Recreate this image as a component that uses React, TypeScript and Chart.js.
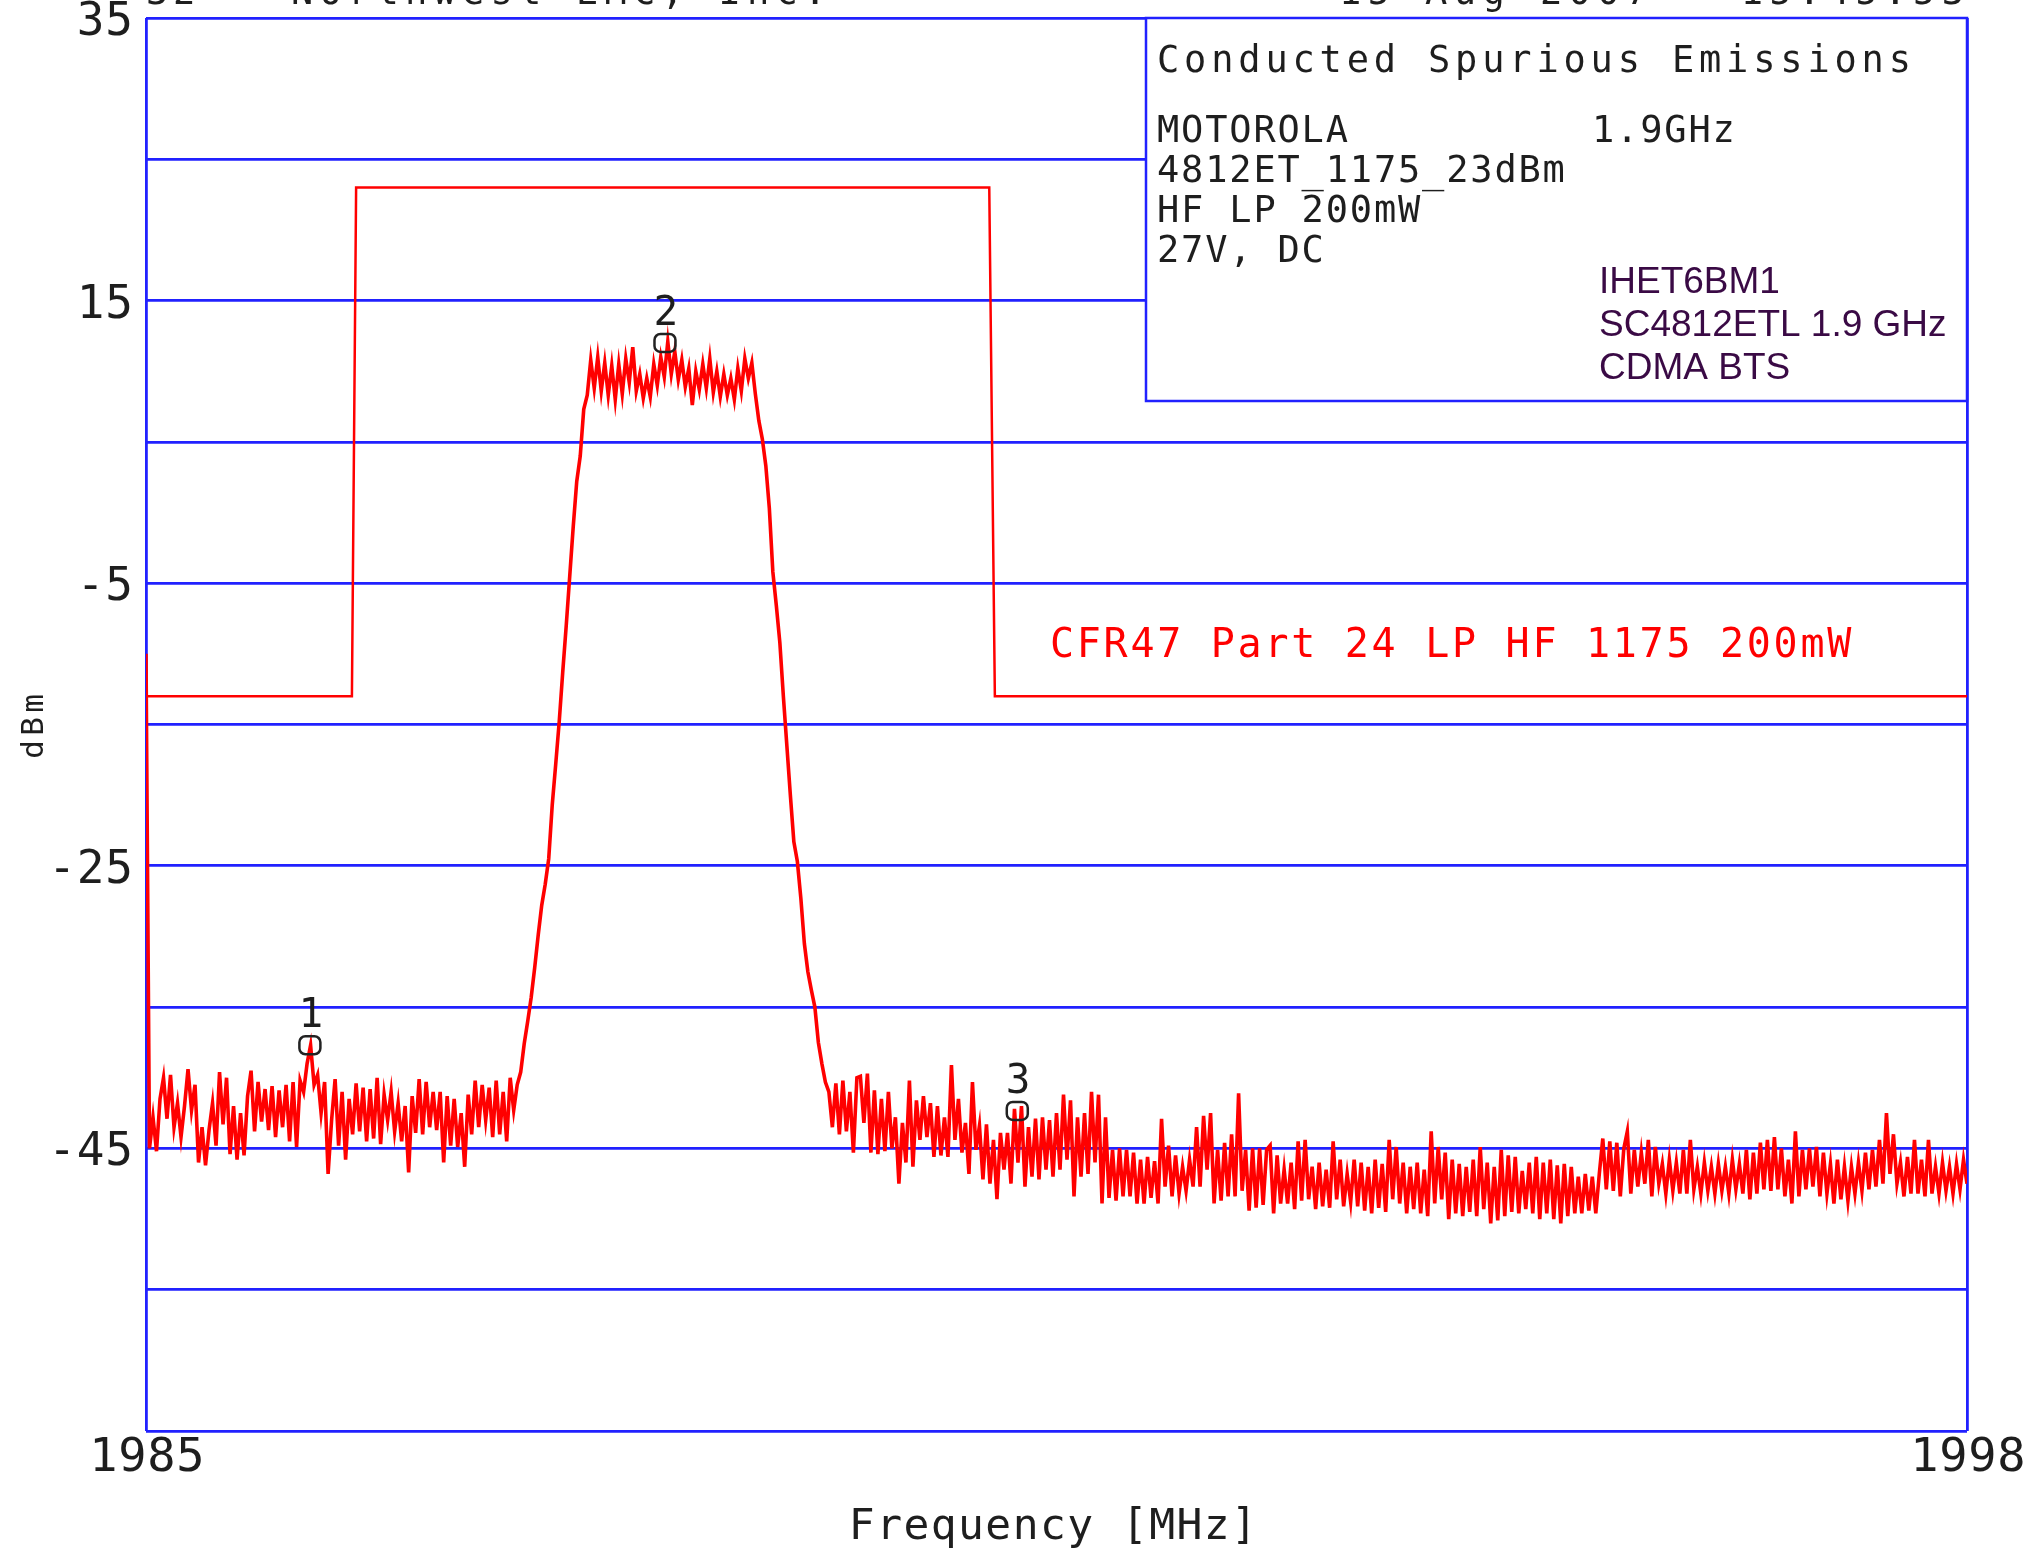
import React, { useEffect, useRef } from 'react';
import { Chart, registerables } from 'chart.js';

Chart.register(...registerables);

// Sweep
const SWEEP_START = 1985;
const SWEEP_STOP = 1998;

// Measured trace (dBm), evenly spaced sweep points from SWEEP_START to SWEEP_STOP
const traceDbm = [
  -10,
  -45.0, -42.8, -45.2, -41.5, -40.0, -42.9, -39.8, -43.5, -41.8, -44.2,
  -42.0, -39.4, -42.3, -40.5, -46.0, -43.5, -46.2, -43.7, -41.8, -44.8,
  -39.6, -43.3, -40.0, -45.4, -42.0, -45.8, -42.5, -45.5, -41.3, -39.5,
  -43.8, -40.3, -43.1, -40.8, -43.7, -40.6, -44.2, -40.9, -43.5, -40.5,
  -44.5, -40.3, -44.9, -40.2, -41.0, -39.0, -37.7, -40.5, -39.8, -42.5,
  -40.3, -46.8, -43.0, -40.1, -44.8, -41.0, -45.8, -41.5, -44.0, -40.4,
  -43.8, -40.7, -44.5, -40.8, -44.3, -40.0, -44.7, -41.2, -43.0, -41.0,
  -43.8, -41.8, -44.5, -42.0, -46.7, -41.3, -43.9, -40.1, -44.0, -40.3,
  -43.5, -41.0, -43.7, -41.0, -46.0, -41.3, -44.8, -41.5, -44.9, -42.5,
  -46.3, -41.2, -44.0, -40.2, -43.5, -40.5, -43.0, -40.7, -44.2, -40.2,
  -44.0, -41.0, -44.5, -40.0, -42.3,
  -40.5, -39.6, -37.6, -36.0, -34.3,
  -32.2, -29.9, -27.8, -26.3, -24.5, -20.7, -17.8, -14.8, -11.3, -8.0,
  -4.5, -1.0, 2.2, 4.0, 7.3, 8.3, 10.8,
  8.8, 11.0, 8.6, 10.6, 8.3, 10.4, 8.0, 10.5, 8.4, 10.9,
  9.2, 11.7, 8.6, 9.8, 8.1, 9.5, 8.2, 10.5, 9.0, 11.0,
  9.6, 12.1, 9.8, 11.4, 9.4, 10.8, 8.9, 10.2, 7.6, 10.0,
  8.7, 10.5, 8.8, 10.9, 8.5, 10.0, 8.2, 9.8, 8.3, 9.5,
  8.0, 10.2, 8.6, 10.9, 9.5, 10.6, 8.4,
  6.5, 5.2, 3.3, 0.3, -4.2, -6.6, -9.2, -13.0, -16.5, -20.0,
  -23.3, -24.7, -27.3, -30.5, -32.5, -33.8, -35.0, -37.5, -39.0, -40.3, -41.0,
  -43.5, -40.4, -44.0, -40.2, -43.8, -41.0, -45.3, -40.0,
  -39.9, -43.2, -39.7, -45.3, -40.9, -45.4, -41.5, -45.2, -41.0, -45.0,
  -42.8, -47.5, -43.2, -46.0, -40.2, -46.3, -41.6, -44.4, -41.3, -44.2,
  -41.8, -45.6, -42.0, -45.5, -42.8, -45.6, -39.1, -44.4, -41.5, -45.3,
  -43.2, -46.8, -40.3, -45.1, -43.4, -47.2, -43.3, -47.5, -44.4, -48.6,
  -43.9, -46.5, -43.9, -47.5, -42.2, -46.0, -42.0, -47.7, -43.5, -47.0,
  -42.9, -47.2, -42.8, -46.5, -43.0, -47.0, -42.5, -46.5, -41.2, -45.8,
  -41.6, -48.4, -42.8, -47.0, -42.5, -46.8, -41.0, -46.0, -41.2, -48.9,
  -42.8, -48.5, -45.1, -48.7, -45.0, -48.4, -45.1, -48.4, -45.3, -48.9,
  -45.8, -48.9, -45.6, -48.5, -45.9, -48.9, -42.9, -47.7, -44.8, -48.4,
  -45.5, -48.2, -46.3, -48.0, -45.8, -47.7, -43.5, -47.7, -42.7, -46.5,
  -42.5, -48.9, -45.1, -48.7, -44.6, -48.4, -44.0, -48.4, -41.1, -48.0,
  -45.1, -49.4, -45.0, -49.2, -45.0, -49.0, -45.1,
  -44.8, -49.6, -45.5, -48.9, -46.5, -48.9, -46.0, -49.3, -44.5, -48.7,
  -44.4, -48.6, -46.3, -49.3, -46.0, -49.1, -46.5, -49.2, -44.5, -48.6,
  -45.8, -49.1, -46.8, -48.8, -45.8, -49.1, -46.0, -49.4, -46.3, -49.6,
  -45.8, -49.2, -46.1, -49.5, -44.4, -48.6, -44.9, -48.9, -46.0, -49.6,
  -46.3, -49.3, -46.0, -49.6, -46.5, -49.8, -43.8, -48.9, -44.9, -48.6,
  -45.3, -50.0, -45.8, -49.6, -46.1, -49.8, -46.3, -49.5, -45.8, -49.8,
  -44.9, -49.3, -46.0, -50.3, -46.3, -50.1, -45.1, -49.8, -45.5, -49.5,
  -45.6, -49.6, -46.6, -49.3, -46.0, -49.6, -45.6, -50.0, -46.0, -49.6,
  -45.8, -50.0, -46.2, -50.3, -46.1, -49.8, -46.3, -49.6, -47.0, -49.6,
  -46.8, -49.4, -47.0, -49.6, -46.8, -44.3, -47.9, -44.5, -48.0, -44.6,
  -48.4, -45.0, -43.8, -48.2, -45.1, -47.7, -45.3, -47.5, -44.4, -48.4,
  -44.9, -47.5, -46.1, -48.2, -45.8, -48.0, -46.0, -48.2, -45.1, -48.2,
  -44.4, -47.9, -46.3, -48.2, -46.0, -48.0, -46.3, -48.2, -46.1, -48.0,
  -46.3, -48.2, -45.8, -47.9, -46.1, -48.2, -45.1, -48.6, -45.3, -48.2,
  -44.6, -47.9, -44.4, -48.0, -44.2, -47.9, -45.0, -48.4, -45.8, -48.9,
  -43.8, -48.4, -45.1, -47.9, -45.0, -47.7, -44.9, -48.4, -45.3, -48.2,
  -46.1, -48.9, -45.8, -48.6, -46.3, -48.7, -46.3, -48.2, -46.0, -48.0,
  -45.3, -47.9, -45.1, -47.7, -44.4, -47.5, -42.5, -46.8, -44.0, -47.5,
  -46.0, -48.4, -45.6, -48.2, -44.4, -48.2, -45.8, -48.4, -44.4, -48.2,
  -46.3, -48.2, -46.0, -48.0, -46.3, -48.2, -46.1, -47.9, -45.8, -47.5,
];

// Limit mask (CFR47 Part 24)
const limitFreq = [1985, 1986.47, 1986.5, 1991.02, 1991.06, 1998];
const limitDbm = [-13, -13, 23, 23, -13, -13];

// Markers
const markerLabels = ['1', '2', '3'];
const markerFreq = [1986.17, 1988.705, 1991.22];
const markerDbm = [-37.7, 12.0, -42.35];

// Axis ticks
const yTickValues = [35, 15, -5, -25, -45];
const yTickLabels = ['35', '15', '-5', '-25', '-45'];
const xTickValues = [1985, 1998];
const xTickLabels = ['1985', '1998'];

// Texts
const boxTitle = 'Conducted Spurious Emissions';
const boxLines = ['MOTOROLA', '4812ET_1175_23dBm', 'HF LP 200mW', '27V, DC'];
const boxRightNote = '1.9GHz';
const noteLines = ['IHET6BM1', 'SC4812ETL 1.9 GHz', 'CDMA BTS'];
const limitLabel = 'CFR47 Part 24 LP HF 1175 200mW';
const headerLeftA = '32';
const headerLeftB = 'Northwest EMC, Inc.';
const headerRight = '15 Aug 2007   15:45:53';

const BLUE = '#2121ff';
const RED = '#ff0000';
const INK = '#1e1e1e';
const MONO = '"DejaVu Sans Mono", "Liberation Mono", monospace';

function drawMono(
  ctx: CanvasRenderingContext2D,
  text: string,
  x: number,
  y: number,
  size: number,
  pitch: number,
  color: string,
  align: 'left' | 'center' | 'right' = 'left'
) {
  const n = text.length;
  const total = (n - 1) * pitch + 0.56 * size;
  let start = x;
  if (align === 'center') start = x - total / 2;
  if (align === 'right') start = x - total;
  ctx.save();
  ctx.font = `${size}px ${MONO}`;
  ctx.fillStyle = color;
  ctx.textAlign = 'left';
  ctx.textBaseline = 'alphabetic';
  for (let i = 0; i < n; i++) {
    const ch = text[i];
    if (ch !== ' ') ctx.fillText(ch, start + i * pitch, y);
  }
  ctx.restore();
}

const overlayPlugin = {
  id: 'overlay',
  afterDatasetsDraw(chart: any) {
    const ctx: CanvasRenderingContext2D = chart.ctx;
    const area = chart.chartArea;
    const xs = chart.scales.x;
    const ys = chart.scales.y;

    // Info box
    const boxL = 1146;
    const boxB = 401;
    ctx.save();
    ctx.fillStyle = '#ffffff';
    ctx.fillRect(boxL, area.top, area.right - boxL, boxB - area.top);
    ctx.strokeStyle = BLUE;
    ctx.lineWidth = 2.5;
    ctx.strokeRect(boxL, area.top, area.right - boxL, boxB - area.top);
    ctx.restore();

    drawMono(ctx, boxTitle, 1157, 72, 37, 27.1, INK);
    boxLines.forEach((t, i) => drawMono(ctx, t, 1157, 142 + i * 40, 37, 24.1, INK));
    drawMono(ctx, boxRightNote, 1592, 142, 37, 24.1, INK);

    ctx.save();
    ctx.font = '37px "Liberation Sans", Arial, sans-serif';
    ctx.fillStyle = '#3a0a45';
    ctx.textAlign = 'left';
    ctx.textBaseline = 'alphabetic';
    noteLines.forEach((t, i) => ctx.fillText(t, 1599, 293 + i * 43));
    ctx.restore();

    // Limit label
    drawMono(ctx, limitLabel, 1050, 657, 40, 26.8, RED);

    // Markers
    markerLabels.forEach((lab, i) => {
      const px = xs.getPixelForValue(markerFreq[i]);
      const py = ys.getPixelForValue(markerDbm[i]);
      const w = 21;
      const h = 18;
      ctx.save();
      ctx.strokeStyle = '#222222';
      ctx.lineWidth = 2.5;
      ctx.beginPath();
      (ctx as any).roundRect(px - w / 2, py - h / 2, w, h, 6);
      ctx.stroke();
      ctx.restore();
      drawMono(ctx, lab, px, py - h / 2 - 9, 41, 24, INK, 'center');
    });
  },
  afterDraw(chart: any) {
    const ctx: CanvasRenderingContext2D = chart.ctx;
    const xs = chart.scales.x;
    const ys = chart.scales.y;

    // Y tick labels
    yTickValues.forEach((v, i) => {
      const py = ys.getPixelForValue(v);
      drawMono(ctx, yTickLabels[i], 131, py + 17, 46, 28.5, INK, 'right');
    });
    // X tick labels
    xTickValues.forEach((v, i) => {
      const px = xs.getPixelForValue(v);
      drawMono(ctx, xTickLabels[i], px, 1471, 47, 29, INK, 'center');
    });
    // Axis titles
    drawMono(ctx, 'Frequency [MHz]', 1052, 1539, 43, 27.3, INK, 'center');
    ctx.save();
    ctx.translate(43, 727);
    ctx.rotate(-Math.PI / 2);
    drawMono(ctx, 'dBm', 0, 0, 31, 23, INK, 'center');
    ctx.restore();

    // Header (clipped at the top edge)
    drawMono(ctx, headerLeftA, 146, 4, 37, 27, INK);
    drawMono(ctx, headerLeftB, 291, 4, 37, 28.5, INK);
    drawMono(ctx, headerRight, 1339, 4, 37, 28.7, INK);
  },
};

export default function App() {
  const ref = useRef<HTMLCanvasElement | null>(null);

  useEffect(() => {
    document.body.style.margin = '0';
    document.body.style.overflow = 'hidden';
    const canvas = ref.current;
    if (!canvas) return;
    const step = (SWEEP_STOP - SWEEP_START) / (traceDbm.length - 1);
    const traceData = traceDbm.map((v, i) => ({ x: SWEEP_START + i * step, y: v }));
    const limitData = limitFreq.map((f, i) => ({ x: f, y: limitDbm[i] }));

    const chart = new Chart(canvas, {
      type: 'line',
      data: {
        datasets: [
          {
            label: 'Limit',
            data: limitData,
            borderColor: RED,
            borderWidth: 2.5,
            pointRadius: 0,
            tension: 0,
            fill: false,
          },
          {
            label: 'Trace',
            data: traceData,
            borderColor: RED,
            borderWidth: 3.6,
            pointRadius: 0,
            tension: 0,
            fill: false,
          },
        ],
      },
      options: {
        animation: false,
        responsive: false,
        devicePixelRatio: 1,
        layout: { padding: { left: 146, right: 61, top: 18, bottom: 122 } },
        plugins: { legend: { display: false }, tooltip: { enabled: false } },
        scales: {
          x: {
            type: 'linear',
            min: SWEEP_START,
            max: SWEEP_STOP,
            afterBuildTicks: (s: any) => {
              s.ticks = xTickValues.map((v) => ({ value: v }));
            },
            afterFit: (s: any) => {
              s.height = 0;
            },
            ticks: { display: false },
            grid: { color: BLUE, lineWidth: 2.8, drawTicks: false },
            border: { display: false },
          },
          y: {
            type: 'linear',
            min: -65,
            max: 35,
            afterFit: (s: any) => {
              s.width = 0;
            },
            ticks: { display: false, stepSize: 10 },
            grid: { color: BLUE, lineWidth: 2.8, drawTicks: false },
            border: { display: false },
          },
        },
      },
      plugins: [overlayPlugin],
    });
    return () => chart.destroy();
  }, []);

  return (
    <canvas
      ref={ref}
      width={2028}
      height={1553}
      style={{ display: 'block', width: '2028px', height: '1553px', background: '#ffffff' }}
    />
  );
}
